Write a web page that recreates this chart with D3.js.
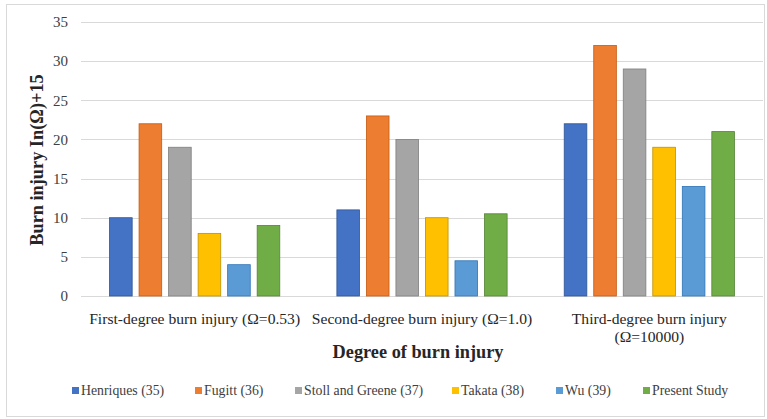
<!DOCTYPE html>
<html><head><meta charset="utf-8">
<script src="https://cdn.jsdelivr.net/npm/d3@7"></script>
<style>body{margin:0;background:#fff}svg{display:block}</style>
</head><body><svg id="c" width="767" height="419"></svg>
<script>
const categories = ["First-degree burn injury (Ω=0.53)", "Second-degree burn injury (Ω=1.0)", "Third-degree burn injury (Ω=10000)"];
const categoryLines = [["First-degree burn injury (Ω=0.53)"], ["Second-degree burn injury (Ω=1.0)"], ["Third-degree burn injury", "(Ω=10000)"]];
const seriesNames = ["Henriques (35)", "Fugitt (36)", "Stoll and Greene (37)", "Takata (38)", "Wu (39)", "Present Study"];
const henriques = [10, 11, 22];
const fugitt = [22, 23, 32];
const stollGreene = [19, 20, 29];
const takata = [8, 10, 19];
const wu = [4, 4.5, 14];
const presentStudy = [9, 10.5, 21];
const yTicks = [0, 5, 10, 15, 20, 25, 30, 35];
const colors = ["#4472C4", "#ED7D31", "#A5A5A5", "#FFC000", "#5B9BD5", "#70AD47"];
const strokes = ["#2F5597", "#C55A11", "#7F7F7F", "#BF9000", "#2E75B6", "#548235"];
const seriesValues = [henriques, fugitt, stollGreene, takata, wu, presentStudy];
const FF = "'Liberation Serif', 'Times New Roman', serif";

const svg = d3.select("#c");
svg.append("rect").attr("x", 6.5).attr("y", 4.5).attr("width", 758).attr("height", 412)
  .attr("fill", "#fff").attr("stroke", "#d9d9d9");

const x0 = d3.scaleBand().domain(categories).range([81, 763]).paddingInner(0).paddingOuter(0);
const x1 = d3.scaleBand().domain(seriesNames).range([0, x0.bandwidth()]).paddingInner(0.2).paddingOuter(0.95);
const y = d3.scaleLinear().domain([0, 35]).range([296, 22]);

// gridlines
svg.append("g").selectAll("line").data(yTicks).join("line")
  .attr("x1", 81).attr("x2", 763).attr("y1", d => Math.round(y(d)) + 0.5).attr("y2", d => Math.round(y(d)) + 0.5)
  .attr("stroke", "#d9d9d9").attr("stroke-width", 1.2);

// y tick labels
const yAxis = d3.axisLeft(y).tickValues(yTicks).tickSize(0).tickPadding(0);
const ya = svg.append("g").attr("transform", "translate(68,0)").call(yAxis).attr("font-family", FF);
ya.select(".domain").remove();
ya.selectAll("text").attr("font-family", FF).attr("font-size", 15).attr("fill", "#404040");

// bars
const groups = svg.append("g").selectAll("g").data(categories).join("g")
  .attr("transform", d => `translate(${x0(d)},0)`);
groups.selectAll("rect").data((d, i) => seriesNames.map((s, j) => ({s, j, v: seriesValues[j][i]}))).join("rect")
  .attr("x", d => x1(d.s) + 0.5).attr("width", x1.bandwidth() - 1)
  .attr("y", d => y(d.v)).attr("height", d => y(0) - y(d.v))
  .attr("fill", d => colors[d.j]).attr("stroke", d => strokes[d.j]).attr("stroke-width", 0.8);

// category labels
const cl = svg.append("g").selectAll("text").data(categories).join("text")
  .attr("font-family", FF)
  .attr("x", d => x0(d) + x0.bandwidth() / 2).attr("y", 324)
  .attr("text-anchor", "middle").attr("font-size", 15.6).attr("fill", "#262626");
cl.selectAll("tspan").data((d, i) => categoryLines[i]).join("tspan")
  .attr("x", function() { return d3.select(this.parentNode).attr("x"); })
  .attr("dy", (d, i) => i === 0 ? 0 : 18).text(d => d);

// axis titles
svg.append("text").attr("x", 418).attr("y", 358).attr("text-anchor", "middle").attr("font-family", FF)
  .attr("font-size", 18.3).attr("font-weight", "bold").attr("fill", "#262626").text("Degree of burn injury");
svg.append("text").attr("transform", "translate(43,160) rotate(-90)").attr("text-anchor", "middle").attr("font-family", FF)
  .attr("font-size", 18.3).attr("font-weight", "bold").attr("fill", "#262626").text("Burn injury In(Ω)+15");

// legend
const legendX = [72, 195, 295, 452, 556, 643];
const lg = svg.append("g").selectAll("g").data(seriesNames).join("g")
  .attr("transform", (d, i) => `translate(${legendX[i]},395)`);
lg.append("rect").attr("x", 0).attr("y", -8).attr("width", 7).attr("height", 7).attr("fill", (d, i) => colors[i]);
lg.append("text").attr("x", 9).attr("y", 0).attr("font-family", FF).attr("font-size", 13.8).attr("fill", "#404040").text(d => d);
</script></body></html>
